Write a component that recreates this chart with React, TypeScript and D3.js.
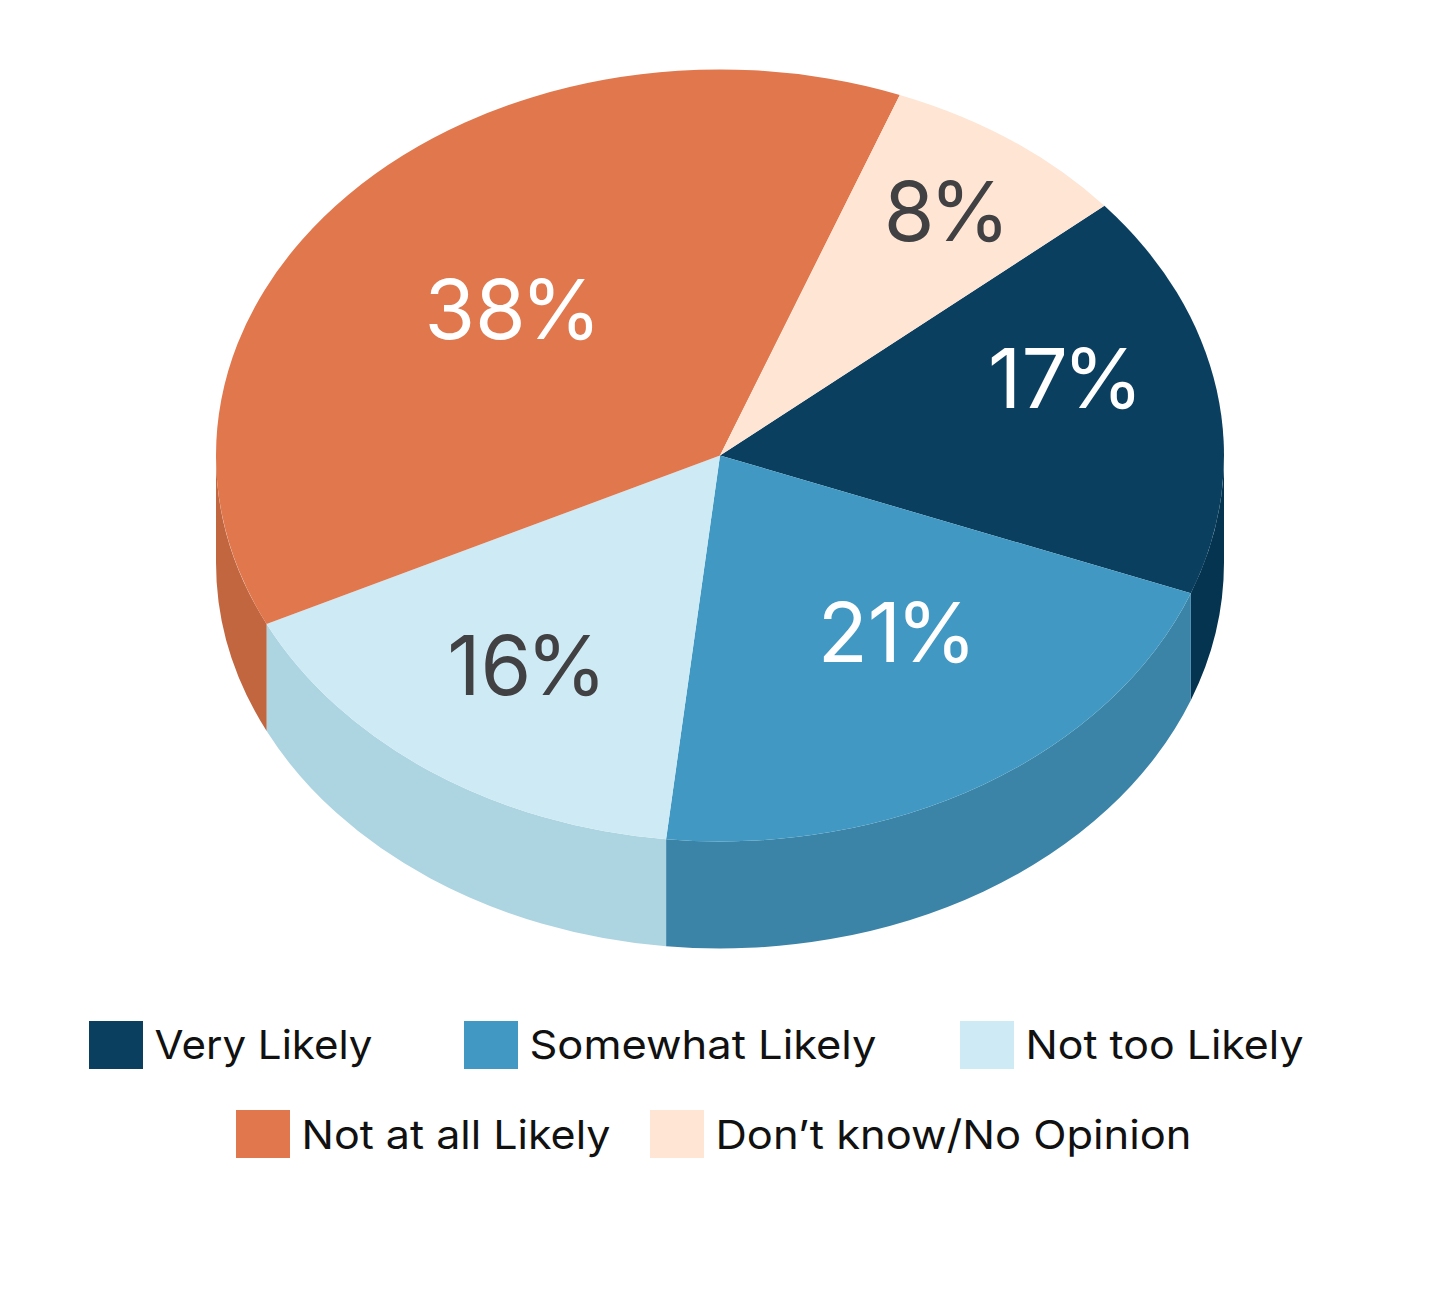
import * as d3 from 'd3';

const categories = ['Very Likely', 'Somewhat Likely', 'Not too Likely', 'Not at all Likely', 'Don\u2019t know/No Opinion'];
const shares = [17, 21, 16, 38, 8];
const sliceShares = [17.0, 20.9, 16.1, 38.0, 8.0];
const topColors = ['#0b3f5f', '#4199c3', '#ceeaf4', '#e1774d', '#fee5d4'];
const sideColors = ['#04344f', '#3b84a8', '#acd4e1', '#c1663f', '#e5cebf'];
const labelColors = ['#ffffff', '#ffffff', '#414042', '#ffffff', '#414042'];

// hand tuned offsets from the slice centroid
const labelNudge = [[-2, -2], [-7, -24], [10, 18], [53, 66], [23, 6]];
const legendX = [89, 464, 960, 236, 650];
const legendRow = [0, 0, 0, 1, 1];
const legendTextWidth = [218, 347, 278, 309, 476];

const width = 1440;
const height = 1290;
const cx = 720;
const cy = 455.5;
const rx = 504;
const ry = 386;
const depth = 107;
const startDeg = 49.7;
const fontFamily = 'Inter, "Open Sans", sans-serif';

const pie = d3
  .pie<number>()
  .sort(null)
  .startAngle((startDeg * Math.PI) / 180)
  .endAngle(((startDeg + 360) * Math.PI) / 180);

const arc = d3.arc<d3.PieArcDatum<number>>().innerRadius(0).outerRadius(rx);
const labelArc = d3
  .arc<d3.PieArcDatum<number>>()
  .innerRadius(rx * 0.7)
  .outerRadius(rx * 0.7);

const px = (a: number) => cx + rx * Math.sin(a);
const py = (a: number) => cy - ry * Math.cos(a);

// outer wall, only the part facing the viewer
function sidePath(d: d3.PieArcDatum<number>) {
  const a0 = Math.max(d.startAngle, Math.PI / 2);
  const a1 = Math.min(d.endAngle, (3 * Math.PI) / 2);
  if (a1 <= a0) return null;
  return [
    `M${px(a0)},${py(a0)}`,
    `A${rx},${ry} 0 0 1 ${px(a1)},${py(a1)}`,
    `L${px(a1)},${py(a1) + depth}`,
    `A${rx},${ry} 0 0 0 ${px(a0)},${py(a0) + depth}`,
    'Z',
  ].join(' ');
}

export default function App() {
  const slices = pie(sliceShares);

  return (
    <svg
      width={width}
      height={height}
      viewBox={`0 0 ${width} ${height}`}
      style={{ position: 'absolute', top: 0, left: 0, background: '#fff' }}
      fontFamily={fontFamily}
    >
      {slices.map((d, i) => {
        const p = sidePath(d);
        return p ? <path key={i} d={p} fill={sideColors[i]} /> : null;
      })}

      <g transform={`translate(${cx},${cy}) scale(1,${ry / rx})`}>
        {slices.map((d, i) => (
          <path key={i} d={arc(d) ?? undefined} fill={topColors[i]} />
        ))}
      </g>

      {slices.map((d, i) => {
        const [x, y] = labelArc.centroid(d);
        return (
          <text
            key={i}
            x={cx + x + labelNudge[i][0]}
            y={cy + (y * ry) / rx + labelNudge[i][1]}
            textAnchor="middle"
            fontSize={82}
            fill={labelColors[i]}
          >
            {shares[i]}
            <tspan dx={-5}>%</tspan>
          </text>
        );
      })}

      {categories.map((c, i) => {
        const y = 1021 + legendRow[i] * 89;
        return (
          <g key={c} transform={`translate(${legendX[i]},${y})`}>
            <rect width={54} height={48} fill={topColors[i]} />
            <text
              x={65.5}
              y={38 + legendRow[i]}
              fontSize={40}
              fill="#111111"
              textLength={legendTextWidth[i]}
              lengthAdjust="spacingAndGlyphs"
            >
              {c}
            </text>
          </g>
        );
      })}
    </svg>
  );
}
